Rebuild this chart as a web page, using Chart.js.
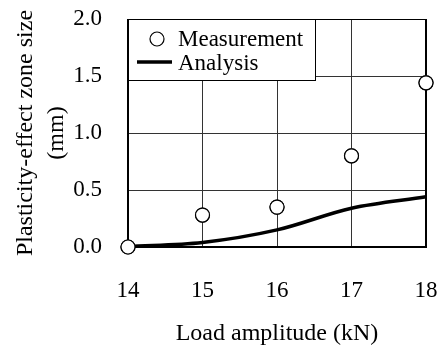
<!DOCTYPE html>
<html><head><meta charset="utf-8">
<script src="https://cdn.jsdelivr.net/npm/chart.js@4/dist/chart.umd.min.js"></script>
<style>html,body{margin:0;padding:0;background:#fff}#wrap{width:443px;height:349px}</style>
</head><body><div id="wrap"><canvas id="c" width="443" height="349"></canvas></div>
<script>
const loads = [14, 15, 16, 17, 18];
const measurement = [0.0, 0.28, 0.35, 0.80, 1.44];
const analysis = [0.005, 0.04, 0.15, 0.34, 0.44];
const xLabel = 'Load amplitude (kN)';
const yLabel = ['Plasticity-effect zone size', '(mm)'];
const FONT = "'Liberation Serif', 'Times New Roman', serif";

const frame = {
  id: 'frame',
  beforeDatasetsDraw(chart) {
    const {ctx, chartArea: a} = chart;
    ctx.save();
    const bx = a.left, by = a.top, bw = 187, bh = 61;
    ctx.fillStyle = '#fff';
    ctx.fillRect(bx, by, bw, bh);
    ctx.strokeStyle = '#000';
    ctx.lineWidth = 1;
    ctx.strokeRect(bx + 0.5, by + 0.5, bw, bh);
    const ds = chart.data.datasets;
    ctx.font = '23px ' + FONT;
    ctx.textBaseline = 'middle';
    ctx.textAlign = 'left';
    ctx.beginPath();
    ctx.arc(bx + 29, by + 20, 7, 0, Math.PI * 2);
    ctx.fillStyle = '#fff'; ctx.fill();
    ctx.lineWidth = 1.2; ctx.strokeStyle = '#000'; ctx.stroke();
    ctx.fillStyle = '#000';
    ctx.fillText(ds[0].label, bx + 50, by + 21);
    ctx.beginPath();
    ctx.moveTo(bx + 9, by + 43); ctx.lineTo(bx + 44, by + 43);
    ctx.lineWidth = 3.5; ctx.stroke();
    ctx.fillText(ds[1].label, bx + 50, by + 45);
    ctx.restore();
  },
  afterDraw(chart) {
    const {ctx, chartArea: a} = chart;
    ctx.save();
    ctx.strokeStyle = '#000';
    ctx.lineWidth = 1;
    ctx.beginPath(); ctx.moveTo(a.left, a.top + 0.5); ctx.lineTo(a.right, a.top + 0.5); ctx.stroke();
    ctx.lineWidth = 2;
    ctx.beginPath(); ctx.moveTo(a.right, a.top); ctx.lineTo(a.right, a.bottom + 1); ctx.stroke();
    ctx.beginPath(); ctx.moveTo(a.left, a.bottom); ctx.lineTo(a.right + 1, a.bottom); ctx.stroke();
    ctx.beginPath(); ctx.moveTo(a.left, a.top); ctx.lineTo(a.left, a.bottom + 1); ctx.stroke();
    chart.getDatasetMeta(0).data.forEach(p => p.draw(ctx, a));
    ctx.restore();
  }
};

new Chart(document.getElementById('c'), {
  type: 'scatter',
  data: {
    datasets: [
      {
        label: 'Measurement',
        data: loads.map((x, i) => ({x, y: measurement[i]})),
        pointRadius: 7,
        pointBackgroundColor: '#fff',
        pointBorderColor: '#000',
        pointBorderWidth: 1.2,
        showLine: false,
        order: 0,
        clip: false
      },
      {
        label: 'Analysis',
        data: loads.map((x, i) => ({x, y: analysis[i]})),
        showLine: true,
        borderColor: '#000',
        borderWidth: 3.5,
        pointRadius: 0,
        cubicInterpolationMode: 'monotone',
        order: 1,
        clip: false
      }
    ]
  },
  options: {
    responsive: false,
    animation: false,
    devicePixelRatio: 1,
    layout: {autoPadding: false, padding: {left: 0, top: 19, right: 17, bottom: 0}},
    plugins: {legend: {display: false}, tooltip: {enabled: false}},
    scales: {
      x: {
        type: 'linear', min: 14, max: 18,
        ticks: {stepSize: 1, color: '#000', padding: 30, font: {family: FONT, size: 23}},
        grid: {color: '#333', lineWidth: 1, drawTicks: false},
        border: {display: false},
        title: {display: true, text: xLabel, color: '#000', font: {family: FONT, size: 24}, padding: {top: 0, bottom: 1}},
        afterFit(s) { s.height = 102; s.paddingLeft = 0; s.paddingRight = 0; }
      },
      y: {
        type: 'linear', min: 0, max: 2,
        ticks: {stepSize: 0.5, color: '#000', padding: 26, font: {family: FONT, size: 23},
          callback: v => v.toFixed(1)},
        grid: {color: '#333', lineWidth: 1, drawTicks: false},
        border: {display: false},
        title: {display: true, text: yLabel, color: '#000', font: {family: FONT, size: 24, lineHeight: 1.3}, padding: {top: 10, bottom: 0}},
        afterFit(s) { s.width = 128; s.paddingTop = 0; s.paddingBottom = 0; }
      }
    }
  },
  plugins: [frame]
});
</script></body></html>
